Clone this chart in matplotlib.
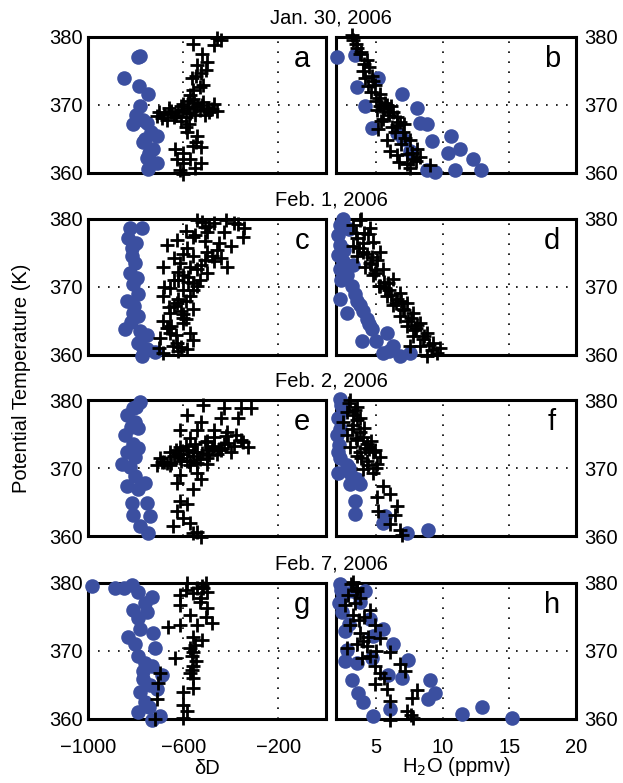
import numpy as np
import matplotlib
matplotlib.use("Agg")
import matplotlib.pyplot as plt

plt.rcParams["font.family"] = ["Liberation Sans", "DejaVu Sans"]

# ---- data ----
# panel a / b : Jan. 30, 2006
a_dD_blue = [-790, -780, -850, -785, -748, -782, -812, -770, -752, -708, -770, -728, -752, -748, -712, -735, -760,
             -800, -745]
a_th_blue = [377.1, 377.2, 374.0, 372.8, 371.6, 369.8, 367.2, 367.8, 367.4, 365.4, 364.6, 363.6, 362.2, 360.6, 361.4,
             366.0, 365.0, 368.5, 363.0]
a_dD_plus = [-443, -472, -557, -498, -540, -527, -561, -515, -570, -709, -680, -650, -620, -600, -580, -560,
             -540, -520, -500, -480, -456, -690, -640, -590, -550, -510, -670, -610, -582, -540, -633, -527,
             -599, -570, -624, -527, -612, -549, -600, -580, -560, -460, -520, -505, -545, -530, -560, -700,
             -660, -630, -610, -570, -530, -490, -470, -650, -600, -555, -515, -575, -590, -545, -560, -600]
a_th_plus = [379.5, 378.8, 378.9, 376.3, 375.9, 374.7, 373.9, 373.0, 371.4, 368.4, 368.7, 368.9, 369.0, 369.3, 369.5,
             369.7, 369.8, 370.0, 369.6, 369.4, 369.1, 368.1, 368.2, 368.3, 368.5, 368.6, 367.8, 367.6, 366.0, 365.5,
             363.6, 363.8, 363.0, 362.0, 362.0, 361.4, 360.4, 360.8, 359.8, 370.6, 372.2, 379.8, 377.5, 375.2, 374.2,
             372.6, 370.9, 369.0, 369.6, 368.6, 369.9, 368.8, 369.2, 368.9, 370.2, 369.1, 370.1, 370.3, 370.4, 367.2,
             366.8, 364.5, 364.0, 361.5]
b_h2o_blue = [2.07, 3.4, 5.15, 3.55, 6.95, 4.2, 8.1, 8.3, 8.8, 4.7, 9.2, 10.6, 11.3, 10.4, 12.3, 12.9, 10.9, 9.4, 8.8,
              7.0, 6.55, 7.55]
b_th_blue = [377.0, 377.4, 373.9, 372.6, 371.6, 369.9, 369.6, 367.4, 367.2, 366.6, 364.7, 365.4, 363.6, 362.9, 362.0,
             360.4, 360.4, 360.2, 360.4, 365.0, 365.9, 363.2]
b_h2o_plus = [3.3, 3.6, 3.8, 4.3, 4.0, 4.7, 4.4, 5.3, 5.8, 5.1, 6.3, 5.5, 6.55, 5.15, 7.0, 5.8, 7.55, 6.05, 8.1, 6.55,
              7.8, 8.3, 7.55, 9.05, 3.5, 4.1, 4.9, 5.0, 5.6, 6.0, 6.8, 7.2, 5.4, 6.2, 7.3, 3.2, 3.9, 4.5, 4.2, 4.8,
              5.2, 5.7, 6.1, 5.3, 5.9, 6.6, 7.1, 6.4, 6.9, 7.7, 6.7, 7.3, 8.0, 4.6]
b_th_plus = [379.6, 378.4, 377.5, 376.6, 375.0, 374.3, 372.8, 371.6, 370.0, 369.2, 368.9, 368.0, 367.0, 366.4, 366.0,
             364.9, 364.9, 363.3, 363.5, 362.6, 362.0, 362.3, 360.7, 361.2, 379.0, 376.0, 373.0, 370.6, 369.5, 368.5,
             367.5, 365.2, 367.6, 366.8, 362.8, 380.3, 377.8, 375.6, 374.0, 373.5, 371.0, 370.3, 369.8, 369.9, 368.9,
             368.2, 367.2, 366.1, 364.3, 363.0, 361.6, 361.3, 361.8, 371.9]

# panel c / d : Feb. 1, 2006
c_dD_blue = [-823, -772, -831, -814, -802, -823, -810, -789, -835, -810, -789, -844, -781, -751, -789, -751, -717,
             -772, -800, -815, -795, -805, -820, -770]
c_th_blue = [378.7, 378.7, 377.2, 375.7, 373.5, 372.1, 370.5, 369.0, 368.0, 366.2, 365.8, 363.8, 363.6, 362.9, 361.8,
             360.9, 360.4, 359.9, 376.5, 374.5, 371.3, 367.2, 364.8, 361.0]
c_dD_plus = [-540, -472, -388, -346, -430, -350, -498, -557, -624, -667, -582, -498, -443, -414, -684, -612, -527,
             -599, -498, -540, -654, -684, -570, -624, -557, -654, -684, -599, -570, -654, -696, -624, -582, -684,
             -641, -510, -450, -400, -560, -600, -530, -470, -580, -620, -560, -600, -640, -600, -560,
             -520, -490, -420, -370, -590, -550, -510, -460, -640, -570, -480, -620, -580, -540, -510, -640, -600,
             -560, -680, -620, -590, -660, -610, -650, -590, -670, -630, -610, -700, -660, -620]
c_th_plus = [379.9, 379.4, 379.4, 378.7, 378.1, 377.3, 378.1, 377.3, 376.9, 376.2, 375.7, 375.1, 374.2, 372.9, 372.9,
             373.6, 373.2, 371.7, 372.0, 370.2, 369.8, 368.7, 368.7, 367.7, 366.8, 366.2, 365.0, 364.7, 363.2, 363.2,
             362.5, 361.8, 360.9, 360.3, 361.3, 378.8, 376.5, 376.0, 374.5, 374.8, 371.0, 373.8, 370.8, 371.0, 369.5,
             366.0, 367.2, 365.5, 362.2, 379.6, 379.0, 379.8, 379.2, 378.2, 377.6, 376.8, 375.5, 374.2, 373.0, 374.6,
             372.2, 371.4, 372.6, 373.9, 371.1, 369.6, 370.6, 370.0, 368.3, 368.0, 367.0, 366.5, 364.3, 365.3, 363.9,
             362.9, 361.2, 361.0, 364.0, 360.6]
d_h2o_blue = [2.3, 2.15, 2.3, 2.15, 2.3, 2.8, 3.3, 3.2, 2.3, 2.8, 3.8, 4.3, 4.7, 3.95, 5.8, 5.5, 6.8, 7.55, 6.3, 3.0,
              2.6, 2.5, 3.4, 4.0, 5.0, 2.5, 2.4, 3.6, 4.5, 6.0]
d_th_blue = [379.1, 377.6, 376.2, 374.7, 372.7, 371.7, 373.2, 370.2, 368.3, 366.2, 367.3, 365.3, 363.8, 362.1, 363.3,
             360.3, 359.9, 360.3, 361.3, 378.5, 375.5, 373.8, 369.0, 366.5, 362.0, 380.0, 371.0, 368.0, 364.5, 360.6]
d_h2o_plus = [3.8, 3.3, 4.55, 3.55, 4.8, 4.0, 5.3, 4.55, 5.5, 4.8, 6.3, 5.3, 6.8, 5.8, 7.3, 6.3, 7.8, 6.8, 8.3, 7.3,
              8.8, 7.8, 9.3, 8.3, 9.6, 8.8, 9.8, 7.55, 3.3, 3.6, 4.2, 4.4, 5.0, 5.6, 6.0, 6.6, 7.0, 7.6, 8.0, 8.6,
              9.0, 4.1, 5.1, 3.9, 3.5, 4.0, 4.3, 4.6, 3.7, 4.9, 5.2, 5.7, 6.1, 6.5, 7.1, 7.4, 7.9, 8.5, 9.2, 4.7,
              5.9, 6.9, 8.1]
d_th_plus = [379.9, 379.1, 378.7, 377.2, 376.6, 375.1, 375.1, 373.6, 372.7, 371.7, 371.2, 370.2, 369.1, 368.7, 367.7,
             367.3, 366.2, 365.8, 364.7, 364.3, 363.3, 362.8, 361.8, 361.3, 360.3, 359.9, 361.0, 361.3, 376.0, 374.5,
             373.0, 377.8, 372.5, 370.8, 369.5, 368.3, 366.8, 365.5, 364.0, 362.8, 361.5, 378.0, 374.0, 380.0, 378.0,
             376.5, 374.8, 373.4, 375.8, 372.0, 370.2, 369.9, 368.8, 367.6, 366.6, 365.0, 363.7, 362.4, 360.8, 374.4,
             370.6, 367.9, 364.4]

# panel e / f : Feb. 2, 2006
e_dD_blue = [-781, -810, -835, -802, -789, -844, -810, -835, -802, -857, -823, -802, -835, -759, -789, -814, -751,
             -810, -738, -781, -747, -800, -820, -790]
e_th_blue = [379.7, 378.8, 377.8, 376.7, 375.9, 374.8, 373.6, 372.3, 371.6, 370.6, 370.1, 368.8, 367.4, 367.8, 366.9,
             364.8, 364.8, 363.1, 362.9, 361.4, 360.4, 379.0, 376.0, 373.0]
e_dD_plus = [-515, -430, -359, -316, -582, -527, -443, -371, -612, -540, -472, -414, -570, -359, -329, -472, -612,
             -654, -540, -401, -696, -612, -498, -709, -654, -570, -540, -612, -527, -624, -557, -612, -582, -624,
             -599, -570, -641, -540, -527, -557, -667, -582, -443, -498, -388, -620, -560, -500, -450, -680,
             -640, -600, -560, -520, -480, -440, -410, -690, -650, -610, -570, -530, -490, -460, -430, -590, -550,
             -510, -470, -420, -380, -350, -630, -580, -540, -500]
e_th_plus = [379.3, 378.8, 378.8, 378.8, 377.8, 376.7, 377.3, 377.3, 375.6, 375.6, 375.6, 375.3, 374.4, 374.1, 373.1,
             373.3, 373.1, 372.3, 372.3, 372.3, 371.4, 371.4, 371.4, 370.4, 370.4, 370.4, 369.2, 368.9, 368.4, 367.8,
             366.9, 365.2, 364.7, 363.7, 362.7, 361.9, 361.4, 360.6, 359.9, 360.4, 370.8, 371.1, 373.0, 374.0, 373.3,
             372.0, 371.8, 372.6, 372.8, 370.9, 371.7, 372.0, 372.4, 372.2, 373.0, 372.6, 373.7, 370.9, 370.7, 371.0,
             371.0, 371.3, 371.9, 372.0, 373.6, 373.3, 373.6, 373.8, 374.5, 374.7, 374.9, 373.8, 372.6, 372.7, 370.8,
             370.6]
f_h2o_blue = [2.3, 2.15, 2.07, 2.15, 2.3, 2.15, 3.05, 3.55, 3.05, 3.8, 3.4, 3.4, 5.65, 5.5, 7.3, 8.9, 2.8, 2.5, 2.3,
              2.4, 2.2, 3.0]
f_th_blue = [380.2, 377.3, 374.8, 372.3, 371.4, 369.2, 369.2, 368.4, 367.7, 367.7, 365.2, 363.3, 362.9, 361.9, 360.4,
             360.9, 370.4, 378.5, 375.8, 379.2, 373.4, 370.0]
f_h2o_plus = [3.05, 3.55, 2.8, 3.8, 2.5, 3.3, 3.8, 2.8, 3.55, 4.3, 3.05, 4.8, 3.8, 5.3, 4.3, 5.1, 4.8, 4.0, 5.5, 6.05,
              5.1, 6.55, 5.15, 6.4, 6.05, 6.8, 6.95, 3.3, 4.0, 4.5, 3.6, 5.0, 3.0, 3.4, 3.2, 3.6, 4.1, 3.5, 4.6, 4.2,
              4.9, 3.9, 4.4]
f_th_plus = [380.0, 379.0, 378.2, 377.3, 376.8, 376.3, 375.3, 374.8, 374.1, 373.6, 373.1, 372.3, 372.3, 371.6, 371.1,
             370.6, 369.3, 369.9, 367.4, 366.2, 365.7, 364.4, 363.7, 363.1, 361.7, 360.9, 360.2, 377.8, 374.6, 372.8,
             371.8, 370.0, 379.5, 378.6, 375.8, 377.0, 375.9, 374.4, 373.9, 373.0, 372.7, 371.4, 370.5]

# panel g / h : Feb. 7, 2006
g_dD_blue = [-983, -886, -814, -789, -730, -810, -751, -789, -781, -726, -831, -802, -717, -789, -759, -730, -768,
             -688, -781, -709, -789, -696, -730, -850, -760, -770, -740, -760, -745]
g_th_blue = [379.6, 379.3, 379.7, 378.7, 377.9, 376.0, 375.7, 374.8, 373.3, 372.7, 372.0, 371.1, 370.5, 369.3, 368.3,
             367.8, 365.9, 366.4, 363.9, 364.4, 361.0, 360.4, 359.9, 379.3, 377.0, 367.0, 365.0, 362.5, 361.8]
g_dD_plus = [-582, -506, -612, -557, -498, -527, -612, -498, -506, -570, -477, -612, -662, -540, -557, -519, -570,
             -633, -561, -557, -570, -557, -599, -582, -599, -696, -705, -709, -717, -540, -520, -560, -545, -590,
             -530, -515, -550, -565, -560, -600]
g_th_plus = [380.0, 380.0, 378.2, 378.5, 378.7, 377.8, 376.7, 376.3, 375.0, 375.3, 374.1, 373.8, 373.5, 373.8, 372.0,
             371.6, 370.4, 368.9, 369.3, 367.8, 366.8, 364.6, 363.9, 361.2, 360.2, 366.7, 365.3, 362.9, 360.0, 379.2,
             379.5, 369.8, 368.5, 379.0, 377.2, 379.3, 370.9, 367.2, 366.0, 362.0]
h_h2o_blue = [2.3, 2.5, 3.3, 4.2, 2.45, 2.7, 4.55, 5.5, 4.8, 6.3, 2.8, 2.7, 3.55, 4.7, 7.4, 5.9, 6.95, 3.2, 3.65, 4.0,
              9.05, 9.4, 8.9, 6.05, 4.8, 11.45, 12.95, 15.2, 2.2, 3.0, 2.4, 3.8]
h_th_blue = [379.9, 378.1, 378.8, 378.8, 375.7, 372.9, 374.7, 373.2, 372.2, 371.0, 370.2, 368.5, 368.3, 369.0, 368.7,
             366.4, 366.0, 365.7, 363.8, 362.5, 365.7, 363.8, 363.0, 361.5, 360.4, 360.8, 361.7, 360.1, 377.0, 374.0,
             379.0, 377.2]
h_h2o_plus = [3.3, 3.55, 2.9, 3.8, 2.7, 4.55, 3.3, 3.05, 4.9, 3.8, 5.3, 2.8, 4.3, 6.05, 4.55, 3.95, 6.8, 4.9, 7.2, 5.3,
              4.9, 5.8, 8.1, 7.7, 6.05, 7.3, 7.8, 6.05, 3.5, 4.0, 5.6, 7.6, 3.1, 3.6, 3.4, 4.1, 3.7, 4.4, 5.0, 3.6]
h_th_plus = [380.2, 379.3, 378.2, 377.8, 376.7, 376.0, 375.3, 373.8, 373.8, 372.7, 371.9, 370.5, 370.8, 369.8, 369.3,
             369.0, 368.1, 367.8, 367.1, 366.7, 365.2, 364.4, 364.2, 363.1, 362.7, 361.2, 360.2, 359.8, 379.0, 371.5,
             366.0, 360.6, 379.8, 378.8, 377.0, 375.0, 374.5, 372.0, 370.0, 371.0]

dates = ["Jan. 30, 2006", "Feb. 1, 2006", "Feb. 2, 2006", "Feb. 7, 2006"]
letters = ["a", "b", "c", "d", "e", "f", "g", "h"]
dD_ticks = [-1000, -600, -200]
h2o_ticks = [5, 10, 15, 20]
th_ticks = [360, 370, 380]

left_data = [(a_dD_blue, a_th_blue, a_dD_plus, a_th_plus),
             (c_dD_blue, c_th_blue, c_dD_plus, c_th_plus),
             (e_dD_blue, e_th_blue, e_dD_plus, e_th_plus),
             (g_dD_blue, g_th_blue, g_dD_plus, g_th_plus)]
right_data = [(b_h2o_blue, b_th_blue, b_h2o_plus, b_th_plus),
              (d_h2o_blue, d_th_blue, d_h2o_plus, d_th_plus),
              (f_h2o_blue, f_th_blue, f_h2o_plus, f_th_plus),
              (h_h2o_blue, h_th_blue, h_h2o_plus, h_th_plus)]

BLUE = "#3b4fa0"
FS = 14.5

W, H = 623, 783
fig = plt.figure(figsize=(W / 100, H / 100), dpi=100)

row_tops = [37, 219, 400, 583]
row_h = 136
col_x = [(88, 326), (336, 576)]


def style_axes(ax, xlim, xticks, right, bottom):
    ax.set_xlim(*xlim)
    ax.set_ylim(360, 380)
    ax.set_xticks(xticks)
    ax.set_yticks(th_ticks)
    ax.set_xticklabels([str(t).replace("-", "\u2212") for t in xticks] if bottom else [])
    for sp in ax.spines.values():
        sp.set_linewidth(2.2)
    ax.tick_params(direction="in", length=0, labelsize=FS, pad=4)
    ax.tick_params(axis="x", pad=14)
    if right:
        ax.yaxis.tick_right()
        ax.tick_params(axis="y", labelright=True, labelleft=False, pad=6)
    ax.grid(True, color="black", linestyle=(0, (1, 5)), linewidth=1.2)
    ax.set_axisbelow(True)


for r in range(4):
    top = row_tops[r]
    y0 = 1 - (top + row_h) / H
    hh = row_h / H
    bottom = r == 3
    for c in range(2):
        x0 = col_x[c][0] / W
        ww = (col_x[c][1] - col_x[c][0]) / W
        ax = fig.add_axes([x0, y0, ww, hh])
        if c == 0:
            xb, yb, xp, yp = left_data[r]
            style_axes(ax, (-1000, 0), dD_ticks, False, bottom)
        else:
            xb, yb, xp, yp = right_data[r]
            style_axes(ax, (2, 20), h2o_ticks, True, bottom)
        ax.plot(xb, yb, "o", color=BLUE, markersize=10.5, markeredgewidth=0, clip_on=False, zorder=3)
        ax.plot(xp, yp, "+", color="black", markersize=10.5, markeredgewidth=2.0, clip_on=False, zorder=4)
        ax.text(0.9, 0.84, letters[2 * r + c], transform=ax.transAxes, fontsize=21,
                ha="center", va="center")
    fig.text(331 / W, 1 - (top - 19) / H, dates[r], fontsize=FS, ha="center", va="center")

# axis titles placed directly so they stay inside the canvas
fig.text(207 / W, 1 - 768 / H, "\u03b4D", fontsize=FS, ha="center", va="center")
fig.text(456 / W, 1 - 767 / H, "H$_2$O (ppmv)", fontsize=FS, ha="center", va="center")
fig.text(22 / W, 1 - 378 / H, "Potential Temperature (K)", fontsize=FS, rotation=90,
         ha="center", va="center")

fig.savefig("out.png", dpi=100)
